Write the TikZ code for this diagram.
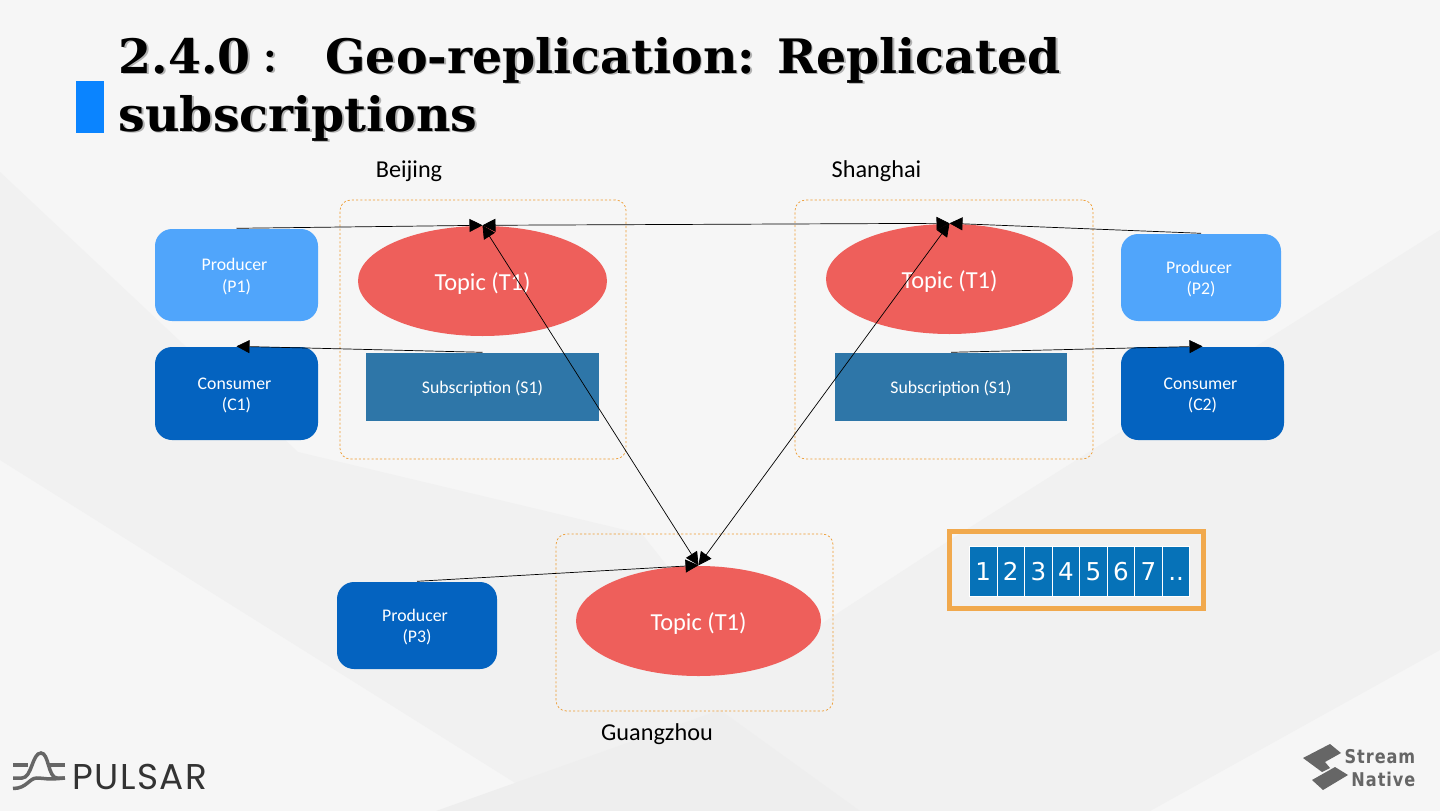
\documentclass[tikz,border=0pt]{standalone}
\usepackage{fontspec}
\usepackage{xcolor}
\usetikzlibrary{arrows.meta, positioning, shapes.geometric}
\setmainfont{Carlito}
\newfontfamily\titlefont{DejaVu Serif}
\newfontfamily\colonfont{Noto Sans CJK JP}
\newfontfamily\segfont{DejaVu Sans}
\newfontfamily\logofont[LetterSpace=4]{Poppins}
\newfontfamily\nativefont[FakeStretch=.85,LetterSpace=5]{DejaVu Sans}
\definecolor{pulsarpage}{HTML}{F6F6F6}
\definecolor{pulsarfacet}{HTML}{F1F1F1}
\definecolor{pulsardeep}{HTML}{EEEEEE}
\definecolor{pulsarmark}{HTML}{0A84FF}
\definecolor{pulsarlight}{HTML}{50A5FB}
\definecolor{pulsardark}{HTML}{0463C0}
\definecolor{pulsarred}{HTML}{EE5F5B}
\definecolor{pulsarsub}{HTML}{2E76A8}
\definecolor{pulsarorange}{HTML}{EE9A2E}
\definecolor{pulsarseg}{HTML}{0672B8}
\definecolor{pulsarlogo}{HTML}{666666}
\newcommand{\slidetitle}{2.4.0\hspace{.04cm}{\colonfont\fontsize{9}{16.5}\selectfont ：}\hspace{.39cm}Geo-replication: Replicated\\subscriptions}
\tikzset{
  region/.style={draw=pulsarorange, dash pattern=on .6pt off .6pt, line width=.2pt, rounded corners=3pt, inner sep=0},
  client/.style={rounded corners=.17cm, text=white, align=center, inner sep=0,
    text height=.39cm, text depth=.05cm, font=\fontsize{5.05}{6}\selectfont},
  topic/.style={ellipse, fill=pulsarred, text=white, inner sep=0, text height=.24cm, text depth=.046cm,
    font=\fontsize{6.95}{8}\selectfont},
  subbox/.style={fill=pulsarsub, text=white, inner sep=0, text height=.18cm, text depth=.048cm,
    font=\fontsize{5.05}{6}\selectfont},
  place/.style={inner sep=0, font=\fontsize{6.9}{8}\selectfont},
  segcell/.style={fill=pulsarseg, draw=white, line width=.25pt, text=white, inner sep=0,
    text height=.19cm, text depth=0pt, minimum width=.2755cm, minimum height=.5cm,
    font=\segfont\fontsize{7}{8}\selectfont},
  flow/.style={-{Triangle[length=.13cm,width=.13cm]}, line width=.2pt},
  both/.style={{Triangle[length=.13cm,width=.13cm]}-{Triangle[length=.13cm,width=.13cm]}, line width=.2pt},
  logoline/.style={draw=pulsarlogo, line width=.035cm}
}
\begin{document}
\begin{tikzpicture}
        \useasboundingbox (0,0) rectangle (14.4,-8.11);
        \fill[pulsarpage] (0,0) rectangle (14.4,-8.11);
        \fill[pulsarfacet] (0,-1.72) -- (2.98,-4.52) -- (6.42,-5.34) -- (8.6,-8.11) -- (5.6,-8.11) -- (0,-4.6) -- cycle;
        \fill[pulsarfacet] (14.4,-2.3) -- (9.5,-5.4) -- (7.2,-6.9) -- (8.6,-8.11) -- (11.5,-8.11) -- (14.4,-6.5) -- cycle;
        \fill[pulsardeep] (4.36,-8.11) -- (7.2,-7.1) -- (8.6,-8.11) -- cycle;

        \fill[pulsarmark] (.76,-.81) rectangle (1.04,-1.33);
        \node[black!30, anchor=north west, inner sep=0, align=left, font=\titlefont\bfseries\fontsize{13.5}{16.5}\selectfont] (titleshade) at (1.195,-.38) {\slidetitle};
        \node[black, anchor=north west, inner sep=0, align=left, font=\titlefont\bfseries\fontsize{13.5}{16.5}\selectfont] (title) at (1.18,-.365) {\slidetitle};

        \node[region, minimum width=2.86cm, minimum height=2.59cm] (regionA) at (4.83,-3.295) {};
        \node[region, minimum width=2.98cm, minimum height=2.59cm] (regionB) at (9.44,-3.295) {};
        \node[region, minimum width=2.77cm, minimum height=1.77cm] (regionC) at (6.945,-6.225) {};

        \node[place] (beijing) at (4.09,-1.71) {Beijing};
        \node[place] (shanghai) at (8.765,-1.71) {Shanghai};
        \node[place] (guangzhou) at (6.57,-7.34) {Guangzhou};

        \node[client, fill=pulsarlight, minimum width=1.63cm, minimum height=.92cm] (prodA) at (2.365,-2.75) {Producer\kern.04cm\\(P1)};
        \node[client, fill=pulsardark, minimum width=1.63cm, minimum height=.93cm] (consA) at (2.365,-3.935) {Consumer\kern.04cm\\(C1)};
        \node[client, fill=pulsarlight, minimum width=1.60cm, minimum height=.87cm] (prodB) at (12.01,-2.775) {Producer\kern.04cm\\(P2)};
        \node[client, fill=pulsardark, minimum width=1.63cm, minimum height=.93cm] (consB) at (12.025,-3.935) {Consumer\kern.04cm\\(C2)};
        \node[client, fill=pulsardark, minimum width=1.60cm, minimum height=.87cm] (prodC) at (4.17,-6.255) {Producer\kern.04cm\\(P3)};

        \node[topic, minimum width=2.49cm, minimum height=1.10cm] (topicA) at (4.825,-2.81) {Topic (T1)};
        \node[topic, minimum width=2.47cm, minimum height=1.10cm] (topicB) at (9.495,-2.79) {Topic (T1)};
        \node[topic, minimum width=2.45cm, minimum height=1.10cm] (topicC) at (6.985,-6.21) {Topic (T1)};

        \node[subbox, minimum width=2.33cm, minimum height=.68cm] (subA) at (4.825,-3.87) {Subscription (S1)};
        \node[subbox, minimum width=2.32cm, minimum height=.68cm] (subB) at (9.51,-3.87) {Subscription (S1)};

        \draw[flow] (prodA.north) -- (topicA.north);
        \draw[flow] (prodB.north) -- (topicB.north);
        \draw[flow] (prodC.north) -- (topicC.north);
        \draw[flow] (subA.north) -- (consA.north);
        \draw[flow] (subB.north) -- (consB.north);
        \draw[both] (topicA.north) -- (topicB.north);
        \draw[both] (topicA.north) -- (topicC.north);
        \draw[both] (topicB.north) -- (topicC.north);

        \node[draw=pulsarorange!85!white, line width=.045cm, inner sep=0, minimum width=2.54cm, minimum height=.77cm] (segframe) at (10.765,-5.70) {};
        \foreach \pos/\seg in {0/1, 1/2, 2/3, 3/4, 4/5, 5/6, 6/7, 7/..}
          \node[segcell] (seg\pos) at ({9.8325+.2755*\pos},-5.71) {\seg};

        \draw[logoline] (.13,-7.65) -- (.28,-7.65) (.50,-7.65) -- (.65,-7.65);
        \draw[logoline] (.13,-7.78) -- (.22,-7.78) .. controls (.32,-7.78) and (.32,-7.53) .. (.41,-7.53) .. controls (.49,-7.53) and (.48,-7.78) .. (.57,-7.78) -- (.65,-7.78);
        \draw[logoline] (.13,-7.885) .. controls (.27,-7.885) and (.29,-7.78) .. (.37,-7.78) .. controls (.44,-7.78) and (.46,-7.80) .. (.65,-7.78);
        \node[anchor=west, inner sep=0, text=black!80, font=\logofont\fontsize{10.2}{11}\selectfont] (pulsar) at (.72,-7.77) {PULSAR};

        \fill[pulsarlogo] (13.03,-7.58) -- (13.30,-7.44) -- (13.41,-7.53) -- (13.25,-7.62) -- (13.30,-7.68) -- (13.22,-7.72) -- cycle;
        \fill[pulsarlogo] (13.12,-7.80) -- (13.35,-7.67) -- (13.48,-7.75) -- (13.23,-7.90) -- cycle;
        \node[anchor=east, inner sep=0, text=pulsarlogo, font=\nativefont\bfseries\fontsize{5.4}{7}\selectfont] (stream) at (14.16,-7.565) {Stream};
        \node[anchor=east, inner sep=0, text=pulsarlogo, font=\nativefont\bfseries\fontsize{5.4}{7}\selectfont] (native) at (14.16,-7.79) {Native};
      \end{tikzpicture}
\end{document}
